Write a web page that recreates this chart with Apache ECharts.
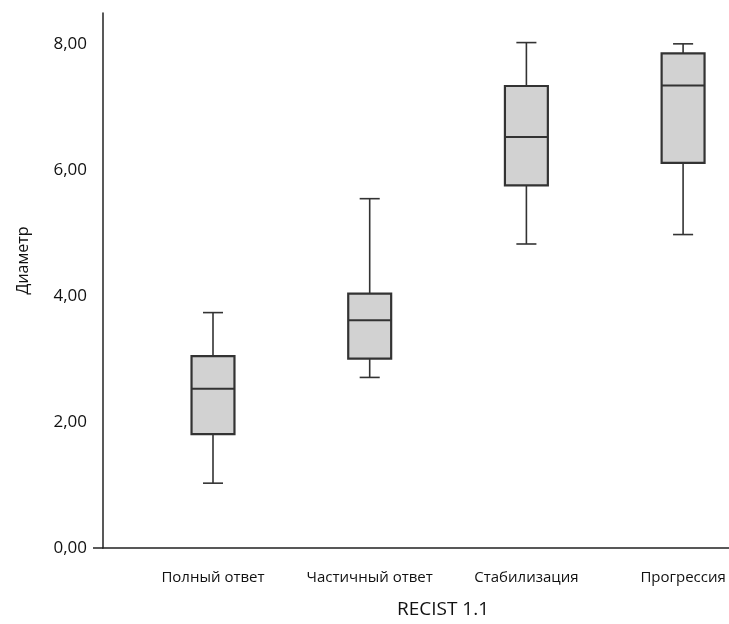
<!DOCTYPE html>
<html>
<head>
<meta charset="utf-8">
<script src="https://cdn.jsdelivr.net/npm/echarts@6/dist/echarts.min.js"></script>
<style>html,body{margin:0;padding:0;background:#fff}#c{width:729px;height:624px}</style>
</head>
<body>
<div id="c"></div>
<script>
var categories = ['Полный ответ', 'Частичный ответ', 'Стабилизация', 'Прогрессия'];
var lowWhisker = [1.03, 2.71, 4.83, 4.98];
var q1 = [1.81, 3.01, 5.76, 6.12];
var median = [2.53, 3.62, 6.53, 7.35];
var q3 = [3.05, 4.04, 7.34, 7.86];
var highWhisker = [3.74, 5.55, 8.03, 8.01];
var yTickLabels = [0, 2, 4, 6, 8];

var boxData = categories.map(function (c, i) {
  return [i, lowWhisker[i], q1[i], median[i], q3[i], highWhisker[i]];
});

var chart = echarts.init(document.getElementById('c'), null, {renderer: 'canvas'});
var FONT = 'Open Sans';
var stroke = '#333333';

chart.setOption({
  backgroundColor: '#ffffff',
  animation: false,
  grid: {left: 103, right: 0, top: 13, bottom: 75, containLabel: false},
  xAxis: {
    type: 'value',
    min: -0.702,
    max: 3.293,
    name: 'RECIST 1.1',
    nameLocation: 'middle',
    nameGap: 52,
    nameTextStyle: {fontFamily: FONT, fontSize: 19, color: '#111', padding: [0, 0, 0, 54]},
    axisLine: {show: true, onZero: false, lineStyle: {color: '#222', width: 1.5}},
    axisTick: {show: false},
    splitLine: {show: false},
    axisLabel: {
      customValues: [0, 1, 2, 3],
      margin: 22,
      fontFamily: FONT, fontSize: 15, color: '#111',
      formatter: function (v) { return categories[Math.round(v)] || ''; }
    }
  },
  yAxis: {
    type: 'value',
    min: 0,
    max: 8.5,
    interval: 2,
    name: 'Диаметр',
    nameLocation: 'middle',
    nameGap: 72,
    nameTextStyle: {fontFamily: FONT, fontSize: 16, color: '#111', padding: [0, 0, 0, 40]},
    axisLine: {show: true, onZero: false, lineStyle: {color: '#222', width: 1.5}},
    axisTick: {show: true, customValues: [0], length: 10, lineStyle: {color: '#222', width: 1.5}},
    splitLine: {show: false},
    axisLabel: {
      customValues: yTickLabels,
      margin: 16,
      fontFamily: FONT, fontSize: 17, color: '#111',
      formatter: function (v) { return v.toFixed(2).replace('.', ','); }
    }
  },
  series: [{
    type: 'custom',
    data: boxData,
    encode: {x: 0, y: [1, 2, 3, 4, 5]},
    renderItem: function (params, api) {
      var x = api.value(0);
      var pLow = api.coord([x, api.value(1)]);
      var pQ1 = api.coord([x, api.value(2)]);
      var pMed = api.coord([x, api.value(3)]);
      var pQ3 = api.coord([x, api.value(4)]);
      var pHigh = api.coord([x, api.value(5)]);
      var band = api.size([1, 0])[0];
      var bw = band * 0.274;
      var cw = band * 0.128;
      var cx = pMed[0];
      var ls = {stroke: stroke, lineWidth: 1.6};
      return {
        type: 'group',
        children: [
          {type: 'line', shape: {x1: cx, y1: pHigh[1], x2: cx, y2: pQ3[1]}, style: ls},
          {type: 'line', shape: {x1: cx, y1: pLow[1], x2: cx, y2: pQ1[1]}, style: ls},
          {type: 'line', shape: {x1: cx - cw / 2, y1: pHigh[1], x2: cx + cw / 2, y2: pHigh[1]}, style: ls},
          {type: 'line', shape: {x1: cx - cw / 2, y1: pLow[1], x2: cx + cw / 2, y2: pLow[1]}, style: ls},
          {type: 'rect', shape: {x: cx - bw / 2, y: pQ3[1], width: bw, height: pQ1[1] - pQ3[1]},
            style: {fill: '#d2d2d2', stroke: stroke, lineWidth: 2.2}},
          {type: 'line', shape: {x1: cx - bw / 2, y1: pMed[1], x2: cx + bw / 2, y2: pMed[1]},
            style: {stroke: stroke, lineWidth: 2}}
        ]
      };
    }
  }]
});
</script>
</body>
</html>
